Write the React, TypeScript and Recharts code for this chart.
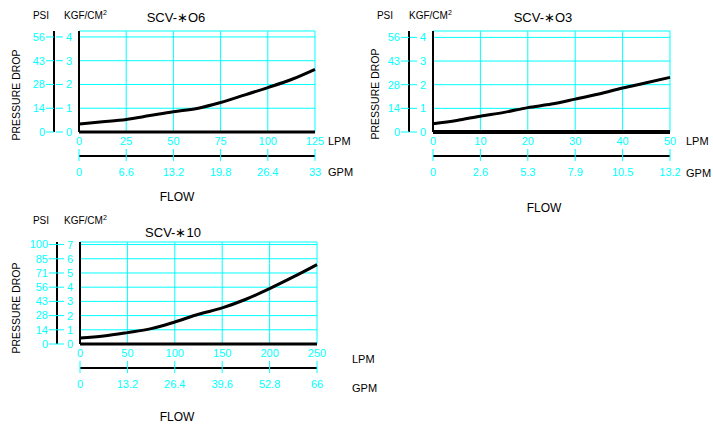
import React from 'react'
import { LineChart, Line, XAxis, YAxis, CartesianGrid } from 'recharts'

const CYAN = '#00ffff'
const FONT = '"Liberation Sans", Arial, sans-serif'

// SCV-*O6
const lpm06 = [0, 12.5, 25, 37.5, 50, 62.5, 75, 87.5, 100, 112.5, 125]
const kgf06 = [0.34, 0.43, 0.53, 0.69, 0.85, 0.99, 1.24, 1.55, 1.87, 2.21, 2.64]
const lpmTicks06 = [0, 25, 50, 75, 100, 125]
const gpmLabels06 = ['0', '6.6', '13.2', '19.8', '26.4', '33']
const kgfTicks06 = [0, 1, 2, 3, 4]
const psiLabels06 = ['0', '14', '28', '43', '56']

// SCV-*O3
const lpm03 = [0, 5, 10, 15, 20, 25, 30, 35, 40, 45, 50]
const kgf03 = [0.35, 0.49, 0.67, 0.83, 1.03, 1.18, 1.39, 1.61, 1.86, 2.08, 2.31]
const lpmTicks03 = [0, 10, 20, 30, 40, 50]
const gpmLabels03 = ['0', '2.6', '5.3', '7.9', '10.5', '13.2']
const kgfTicks03 = [0, 1, 2, 3, 4]
const psiLabels03 = ['0', '14', '28', '43', '56']

// SCV-*10
const lpm10 = [0, 25, 50, 75, 100, 125, 150, 175, 200, 225, 250]
const kgf10 = [0.42, 0.56, 0.8, 1.08, 1.55, 2.09, 2.54, 3.15, 3.9, 4.72, 5.59]
const lpmTicks10 = [0, 50, 100, 150, 200, 250]
const gpmLabels10 = ['0', '13.2', '26.4', '39.6', '52.8', '66']
const kgfTicks10 = [0, 1, 2, 3, 4, 5, 6, 7]
const psiLabels10 = ['0', '14', '28', '43', '56', '71', '85', '100']

const KgfTick = (props: any) => {
  const { x, y, payload } = props
  return (
    <g>
      <line x1={x - 16} x2={x - 9} y1={y} y2={y} stroke={CYAN} />
      <text x={x} y={y} dy="0.36em" textAnchor="end" fill={CYAN} fontSize={11} fontFamily={FONT}>
        {payload.value}
      </text>
    </g>
  )
}

const makeGpmTick = (ticks: number[], labels: string[]) => (props: any) => {
  const { x, y, payload } = props
  return (
    <g>
      <line x1={x} x2={x} y1={y - 18} y2={y - 6} stroke={CYAN} />
      <text x={x} y={y + 9} textAnchor="middle" fill={CYAN} fontSize={11} fontFamily={FONT}>
        {labels[ticks.indexOf(payload.value)]}
      </text>
    </g>
  )
}

type ChartProps = {
  lpm: number[]
  kgf: number[]
  lpmTicks: number[]
  gpmLabels: string[]
  kgfTicks: number[]
  psiLabels: string[]
  kgfTop: number
  left: number
  top: number
  height: number
  margin: { top: number; right: number; bottom: number; left: number }
  kgfWidth: number
  baseWidth: number
}

function FlowChart(p: ChartProps) {
  const data = p.lpm.map((x, i) => ({ lpm: x, kgf: p.kgf[i] }))
  const lpmMax = p.lpmTicks[p.lpmTicks.length - 1]
  return (
    <div style={{ position: 'absolute', left: p.left, top: p.top }}>
      <LineChart width={340} height={p.height} data={data} margin={p.margin}>
        <CartesianGrid xAxisId="x1" yAxisId="y1" stroke={CYAN} strokeWidth={1} />
        <XAxis
          xAxisId="x1"
          dataKey="lpm"
          type="number"
          domain={[0, lpmMax]}
          ticks={p.lpmTicks}
          height={24}
          axisLine={{ stroke: '#000', strokeWidth: p.baseWidth }}
          tickLine={false}
          tickSize={0}
          tickMargin={5}
          tick={{ fill: CYAN, fontSize: 11, fontFamily: FONT }}
          interval={0}
        />
        <XAxis
          xAxisId="x2"
          dataKey="lpm"
          type="number"
          domain={[0, lpmMax]}
          ticks={p.lpmTicks}
          height={30}
          axisLine={{ stroke: '#000', strokeWidth: 2 }}
          tickLine={false}
          tickSize={0}
          tickMargin={11}
          tick={makeGpmTick(p.lpmTicks, p.gpmLabels)}
          interval={0}
        />
        <YAxis
          yAxisId="y1"
          dataKey="kgf"
          type="number"
          domain={[0, p.kgfTop]}
          allowDataOverflow
          ticks={p.kgfTicks}
          width={p.kgfWidth}
          axisLine={{ stroke: '#000', strokeWidth: 2 }}
          tickLine={false}
          tickSize={3}
          tickMargin={4}
          tick={<KgfTick />}
          interval={0}
        />
        <YAxis
          yAxisId="y2"
          dataKey="kgf"
          type="number"
          domain={[0, p.kgfTop]}
          allowDataOverflow
          ticks={p.kgfTicks}
          width={34}
          axisLine={{ stroke: '#000', strokeWidth: 2 }}
          tickLine={{ stroke: CYAN }}
          tickSize={8}
          tickMargin={1}
          tickFormatter={(v: number) => p.psiLabels[p.kgfTicks.indexOf(v)]}
          tick={{ fill: CYAN, fontSize: 11, fontFamily: FONT }}
          interval={0}
        />
        <Line
          xAxisId="x1"
          yAxisId="y1"
          dataKey="kgf"
          type="monotone"
          stroke="#000"
          strokeWidth={3}
          dot={false}
          isAnimationActive={false}
        />
      </LineChart>
    </div>
  )
}

const Caption = ({ x, y, title, psiX, kgfX, pdX, pdY, lpmX, lpmY, gpmX, gpmY, flowX, flowY, hy }: any) => (
  <g fontFamily={FONT} fill="#000">
    <text x={psiX} y={hy} fontSize={10} textAnchor="middle">PSI</text>
    <text x={kgfX} y={hy} fontSize={10}>
      KGF/CM<tspan dy={-4} fontSize={7}>2</tspan>
    </text>
    <text x={x} y={y} fontSize={13} textAnchor="middle">{title}</text>
    <text x={pdX} y={pdY} fontSize={10.5} textAnchor="middle" dy="0.35em" transform={`rotate(-90 ${pdX} ${pdY})`}>
      PRESSURE DROP
    </text>
    <text x={lpmX} y={lpmY} fontSize={11}>LPM</text>
    <text x={gpmX} y={gpmY} fontSize={11}>GPM</text>
    <text x={flowX} y={flowY} fontSize={12} textAnchor="middle">FLOW</text>
  </g>
)

export default function App() {
  return (
    <div style={{ position: 'absolute', left: 0, top: 0, width: 713, height: 428, background: '#fff', fontFamily: FONT }}>
      <FlowChart
        lpm={lpm06} kgf={kgf06} lpmTicks={lpmTicks06} gpmLabels={gpmLabels06}
        kgfTicks={kgfTicks06} psiLabels={psiLabels06} kgfTop={4.25}
        left={0} top={0} height={205}
        margin={{ top: 31, right: 25, bottom: 19, left: 20 }} kgfWidth={25} baseWidth={3}
      />
      <FlowChart
        lpm={lpm03} kgf={kgf03} lpmTicks={lpmTicks03} gpmLabels={gpmLabels03}
        kgfTicks={kgfTicks03} psiLabels={psiLabels03} kgfTop={4.27}
        left={355} top={0} height={205}
        margin={{ top: 31, right: 25, bottom: 19, left: 20 }} kgfWidth={24} baseWidth={4}
      />
      <FlowChart
        lpm={lpm10} kgf={kgf10} lpmTicks={lpmTicks10} gpmLabels={gpmLabels10}
        kgfTicks={kgfTicks10} psiLabels={psiLabels10} kgfTop={7.18}
        left={0} top={210} height={200}
        margin={{ top: 32, right: 23, bottom: 12, left: 23 }} kgfWidth={23} baseWidth={3}
      />
      <svg width={713} height={428} style={{ position: 'absolute', left: 0, top: 0, pointerEvents: 'none' }}>
        <Caption x={176} y={22} title="SCV-∗O6" psiX={41} kgfX={64} hy={19} pdX={16} pdY={95}
          lpmX={328} lpmY={145} gpmX={328} gpmY={176} flowX={177} flowY={201} />
        <Caption x={543} y={22} title="SCV-∗O3" psiX={385} kgfX={409} hy={19} pdX={375} pdY={94}
          lpmX={686} lpmY={145} gpmX={686} gpmY={177} flowX={544} flowY={212} />
        <Caption x={173} y={237} title="SCV-∗10" psiX={41} kgfX={64} hy={224} pdX={16} pdY={308}
          lpmX={352} lpmY={363} gpmX={352} gpmY={392} flowX={177} flowY={421} />
      </svg>
    </div>
  )
}
